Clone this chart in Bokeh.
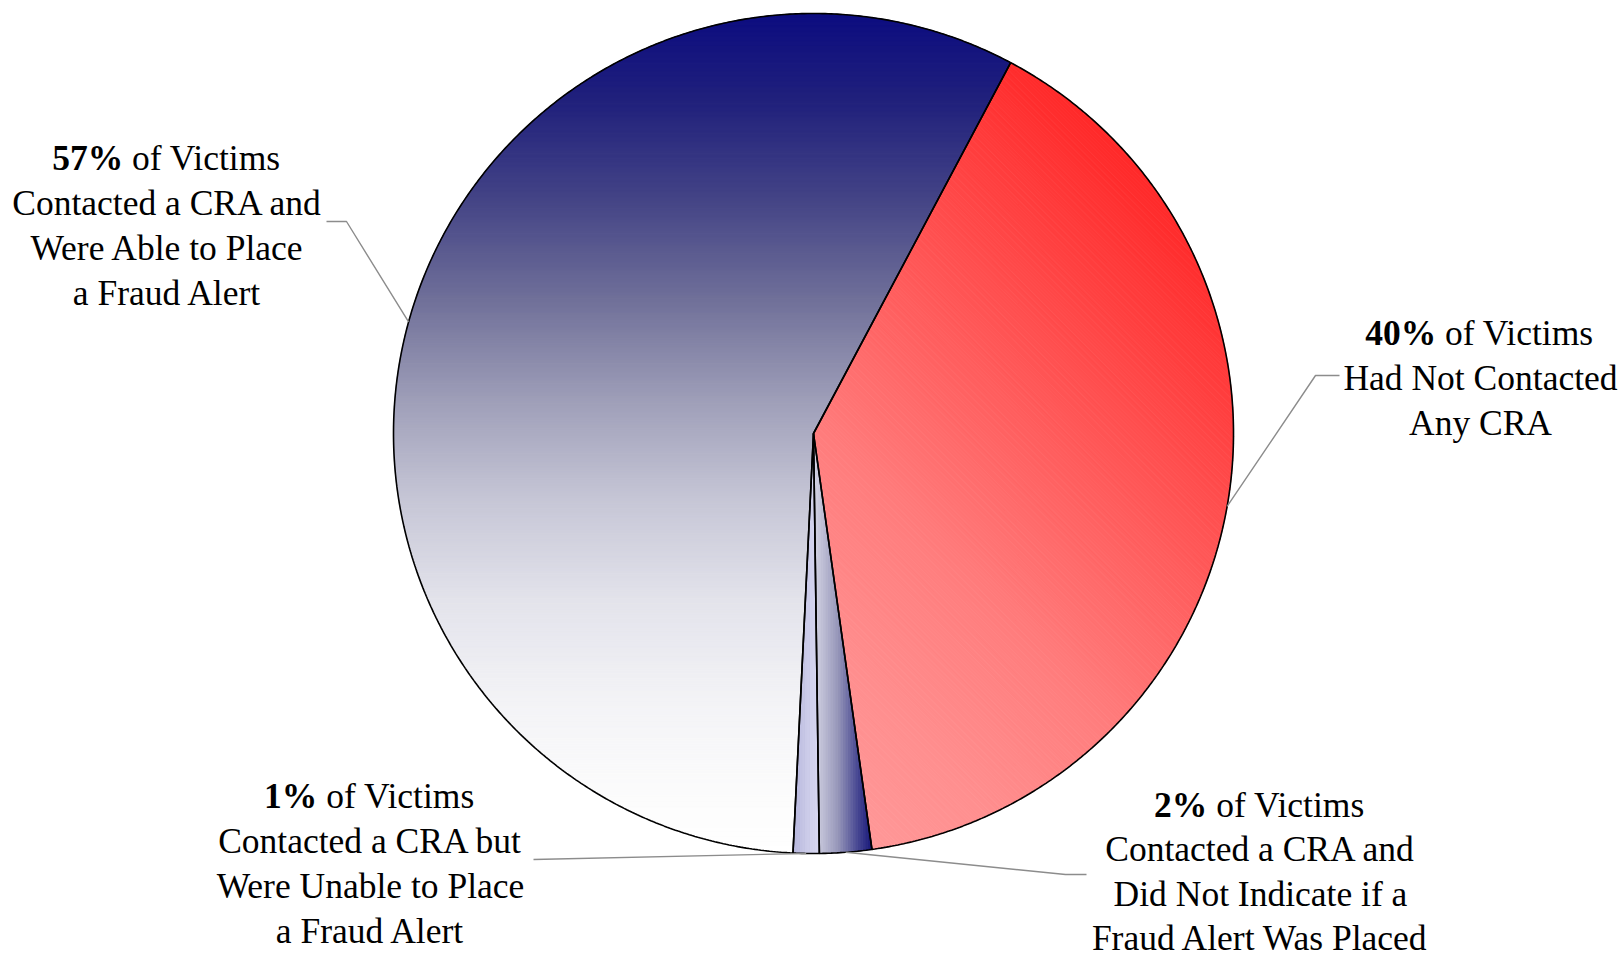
import numpy as np
from bokeh.plotting import figure
from bokeh.models import Range1d
from bokeh.embed import file_html
from bokeh.resources import INLINE
from bokeh.core.properties import value

# ---------------- data (slices listed clockwise from the 40% slice) ----------------
categories = [
    "Had Not Contacted Any CRA",
    "Contacted a CRA and Did Not Indicate if a Fraud Alert Was Placed",
    "Contacted a CRA but Were Unable to Place a Fraud Alert",
    "Contacted a CRA and Were Able to Place a Fraud Alert",
]
percents = [40, 2, 1, 57]
pct_labels = ["40%", "2%", "1%", "57%"]
first_line_rest = ["of Victims", "of Victims", "of Victims", "of Victims"]
other_lines = [
    ["Had Not Contacted", "Any CRA"],
    ["Contacted a CRA and", "Did Not Indicate if a", "Fraud Alert Was Placed"],
    ["Contacted a CRA but", "Were Unable to Place", "a Fraud Alert"],
    ["Contacted a CRA and", "Were Able to Place", "a Fraud Alert"],
]

# ---------------- layout ----------------
W, H = 1622, 962
CX, CY, R = 813.0, 433.0, 420.0
START_DEG = 28.0
FONT = "Liberation Serif"
FS = 35.5
label_pos = [(1480, 332), (1260, 804), (370, 795), (167, 157)]
label_line_h = [45.0, 44.5, 45.0, 45.0]
leader_elbows = [
    [(1339, 375), (1315, 375)],
    [(1086, 874), (1065, 874)],
    [(533, 859)],
    [(326, 221), (346, 221)],
]

# gradient definitions (per slice): direction (nx, ny) in screen coords, stops in projected px
grad_defs = [
    # red slice: diagonal, bright red at upper-right -> pink toward lower-left
    ((-1 / np.sqrt(2), 1 / np.sqrt(2)),
     [(-420, (255, 40, 40)), (-250, (255, 75, 75)), (-100, (255, 105, 105)),
      (0, (255, 125, 125)), (150, (255, 143, 143)), (260, (255, 152, 152))]),
    # 2% slice: horizontal, light at left -> navy at right
    ((1.0, 0.0),
     [(0, (215, 215, 230)), (25, (150, 150, 185)), (45, (70, 70, 145)), (60, (20, 20, 120))]),
    # 1% slice: horizontal lavender
    ((1.0, 0.0),
     [(-22, (178, 178, 218)), (0, (212, 212, 238)), (8, (215, 215, 240))]),
    # 57% slice: vertical, navy at top -> white at bottom
    ((0.0, 1.0),
     [(-421, (12, 12, 128)), (-333, (32, 32, 124)), (-233, (68, 68, 134)),
      (-133, (112, 112, 153)), (-33, (158, 158, 184)), (67, (198, 198, 214)),
      (167, (227, 227, 235)), (267, (243, 243, 246)), (367, (252, 252, 252)),
      (421, (255, 255, 255))]),
]


def arc_poly(a0, a1, step=0.4):
    n = max(2, int(np.ceil((a1 - a0) / step)) + 1)
    th = np.radians(np.linspace(a0, a1, n))
    xs = np.concatenate([[CX], CX + R * np.sin(th)])
    ys = np.concatenate([[CY], CY - R * np.cos(th)])
    return list(zip(xs, ys))


def clip_half(poly, nx, ny, c):
    out = []
    m = len(poly)
    for i in range(m):
        P = poly[i]
        Q = poly[(i + 1) % m]
        fp = nx * P[0] + ny * P[1] - c
        fq = nx * Q[0] + ny * Q[1] - c
        if fp <= 0:
            out.append(P)
        if (fp <= 0) != (fq <= 0):
            t = fp / (fp - fq)
            out.append((P[0] + t * (Q[0] - P[0]), P[1] + t * (Q[1] - P[1])))
    return out


def color_at(stops, s):
    pos = [p for p, _ in stops]
    rgb = [np.interp(s, pos, [c[k] for _, c in stops]) for k in range(3)]
    return "#%02x%02x%02x" % tuple(int(round(v)) for v in rgb)


# slice angles from values
total = float(sum(percents))
edges = [START_DEG]
for v in percents:
    edges.append(edges[-1] + 360.0 * v / total)
slices = [(edges[i], edges[i + 1]) for i in range(len(percents))]

p = figure(width=W, height=H, output_backend="svg", toolbar_location=None,
           x_range=Range1d(0, W), y_range=Range1d(H, 0),
           x_axis_type=None, y_axis_type=None, min_border=0)
p.grid.visible = False
p.outline_line_color = None
p.background_fill_color = "white"
p.border_fill_color = "white"

# gradient strips
gx, gy, gc = [], [], []
for (a0, a1), ((nx, ny), stops) in zip(slices, grad_defs):
    poly = arc_poly(a0, a1)
    proj = [nx * (x - CX) + ny * (y - CY) for x, y in poly]
    smin, smax = min(proj), max(proj)
    step = 2.5
    s = smin
    while s < smax:
        s1 = min(s + step, smax)
        q = clip_half(poly, nx, ny, s1 + nx * CX + ny * CY)
        if q:
            q = clip_half(q, -nx, -ny, -(s + nx * CX + ny * CY))
        if len(q) >= 3:
            gx.append([pt[0] for pt in q])
            gy.append([pt[1] for pt in q])
            gc.append(color_at(stops, 0.5 * (s + s1)))
        s = s1
p.patches(xs=gx, ys=gy, fill_color=gc, line_color=gc, line_width=0.9)

# slice outlines
ox, oy = [], []
for a0, a1 in slices:
    poly = arc_poly(a0, a1)
    ox.append([pt[0] for pt in poly])
    oy.append([pt[1] for pt in poly])
p.patches(xs=ox, ys=oy, fill_color=None, line_color="black", line_width=1.6)

# leader lines: from label elbow to slice mid-angle on the rim
for (a0, a1), elb in zip(slices, leader_elbows):
    mid = np.radians(0.5 * (a0 + a1))
    ex, ey = CX + R * np.sin(mid), CY - R * np.cos(mid)
    xs = [e[0] for e in elb] + [ex]
    ys = [e[1] for e in elb] + [ey]
    p.line(xs, ys, line_color="#8c8c8c", line_width=1.4)

# labels
BOLD_W = {"0": 0.5, "1": 0.5, "2": 0.5, "3": 0.5, "4": 0.5, "5": 0.5,
          "6": 0.5, "7": 0.5, "8": 0.5, "9": 0.5, "%": 1.0}
REST_W = 4.5  # " of Victims" in Times-metric em
bx, by, bt, rx, ry, rt = [], [], [], [], [], []
lx, ly, lt = [], [], []
for (xc, y0), lh, pl, rest, lines in zip(label_pos, label_line_h, pct_labels, first_line_rest, other_lines):
    bw = sum(BOLD_W[ch] for ch in pl) * FS
    tw = bw + REST_W * FS
    split = xc - tw / 2 + bw
    bx.append(split); by.append(y0); bt.append(pl)
    rx.append(split + 0.25 * FS); ry.append(y0); rt.append(rest)
    for i, ln in enumerate(lines):
        lx.append(xc); ly.append(y0 + (i + 1) * lh); lt.append(ln)

fs = "%.1fpx" % FS
p.text(x=bx, y=by, text=bt, text_font=value(FONT), text_font_size=fs,
       text_font_style="bold", text_align="right", text_baseline="middle", text_color="black")
p.text(x=rx, y=ry, text=rt, text_font=value(FONT), text_font_size=fs,
       text_align="left", text_baseline="middle", text_color="black")
p.text(x=lx, y=ly, text=lt, text_font=value(FONT), text_font_size=fs,
       text_align="center", text_baseline="middle", text_color="black")

open("out.html", "w").write(file_html(p, INLINE))
